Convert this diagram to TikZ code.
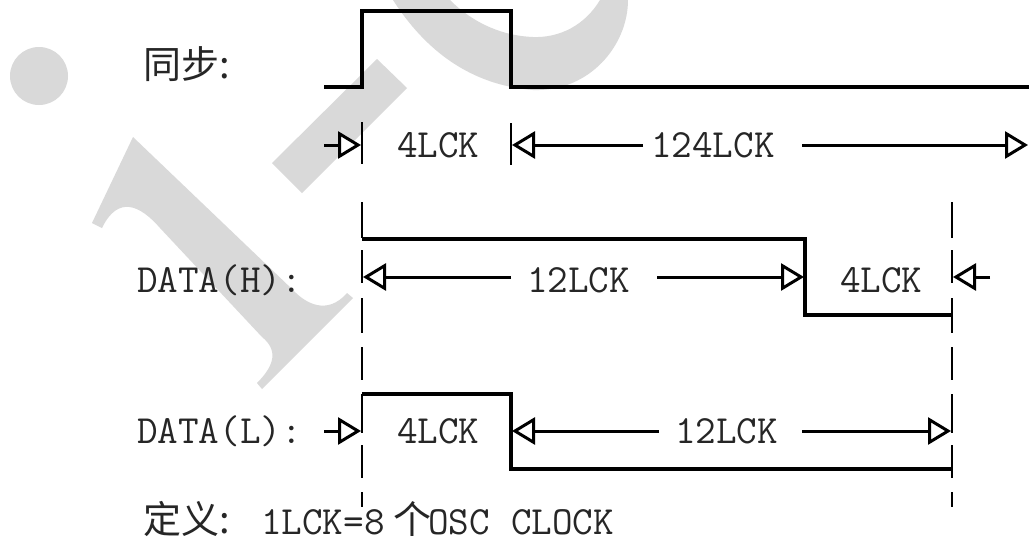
\documentclass[tikz,border=0pt]{standalone}
\usepackage{fontspec}
\newfontfamily\cjkfont{Noto Sans CJK SC}[Scale=1.0]
\usetikzlibrary{arrows.meta}
\definecolor{wm}{HTML}{D9D9D9}
\tikzset{
  mark wm/.style={fill=wm,draw=none},
  signal/.style={draw=black,line width=3.3pt,line join=miter},
  tick/.style={draw=black,line width=2.8pt},
  guide/.style={draw=black,line width=1.9pt},
  dimline/.style={draw=black,line width=3pt,-{Triangle[open,length=23pt,width=27pt,line width=3pt,fill=white]}},
  lbl/.style={anchor=base west,inner sep=0pt,outer sep=0pt,font=\fontsize{40}{40}\selectfont\ttfamily,text=black!85},
  cjk/.style={anchor=base west,inner sep=0pt,outer sep=0pt,font=\fontsize{38}{38}\selectfont\cjkfont,text=black!85}
}
\begin{document}
\begin{tikzpicture}[x=1pt,y=-1pt]
\useasboundingbox (0,0) rectangle (1029,541);
\fill[white] (0,0) rectangle (1029,541);
% watermark
\fill[mark wm] (39,76) circle (29);
\fill[mark wm] (377,59) -- (407,88) -- (302,193) -- (272,163) -- cycle;
\fill[mark wm] (133,137) -- (293,290) .. controls (305,303) and (327,316) .. (347,293)
  -- (353,298) -- (262,389) -- (257,383) .. controls (275,365) and (278,350) .. (262,337)
  -- (160,228) .. controls (140,205) and (118,195) .. (102,228) -- (92,223) -- cycle;
\fill[mark wm] (393,0) .. controls (425,50) and (470,85) .. (533,90)
  .. controls (590,92) and (628,45) .. (628,0) -- (600,0)
  .. controls (585,25) and (560,38) .. (533,37)
  .. controls (505,36) and (475,25) .. (450,0) -- cycle;
% signals
\coordinate (s0) at (324,87); \coordinate (s1) at (362,87); \coordinate (s2) at (362,11);
\coordinate (s3) at (511,11); \coordinate (s4) at (511,87); \coordinate (s5) at (1029,87);
\draw[signal] (s0) -- (s1) -- (s2) -- (s3) -- (s4) -- (s5);
\coordinate (h0) at (362,239); \coordinate (h1) at (805,239); \coordinate (h2) at (805,315); \coordinate (h3) at (952,315);
\draw[signal] (h0) -- (h1) -- (h2) -- (h3);
\coordinate (l0) at (362,394); \coordinate (l1) at (511,394); \coordinate (l2) at (511,469); \coordinate (l3) at (952,469);
\draw[signal] (l0) -- (l1) -- (l2) -- (l3);
% ticks in first dimension row
\coordinate (t1a) at (362,122); \coordinate (t1b) at (362,164);
\coordinate (t2a) at (511,123); \coordinate (t2b) at (511,165);
\draw[tick] (t1a) -- (t1b);
\draw[tick] (t2a) -- (t2b);
% dashed guides
\foreach \x in {362,952}{
  \foreach \a/\b in {202/238,250/283,298/333,347/380,394/433,445/478,492/507}{
    \draw[guide] (\x,\a) -- (\x,\b);
  }
}
% dimension row 1
\coordinate (a1) at (324,145); \coordinate (a2) at (361,145);
\coordinate (a3) at (643,145); \coordinate (a4) at (512,145);
\coordinate (a5) at (802,145); \coordinate (a6) at (1028,145);
\draw[dimline] (a1) -- (a2);
\draw[dimline] (a3) -- (a4);
\draw[dimline] (a5) -- (a6);
% dimension row 2
\coordinate (b1) at (511,277); \coordinate (b2) at (363,277);
\coordinate (b3) at (657,277); \coordinate (b4) at (804,277);
\coordinate (b5) at (990,277); \coordinate (b6) at (953,277);
\draw[dimline] (b1) -- (b2);
\draw[dimline] (b3) -- (b4);
\draw[dimline] (b5) -- (b6);
% dimension row 3
\coordinate (c1) at (324,431); \coordinate (c2) at (361,431);
\coordinate (c3) at (659,431); \coordinate (c4) at (512,431);
\coordinate (c5) at (802,431); \coordinate (c6) at (951,431);
\draw[dimline] (c1) -- (c2);
\draw[dimline] (c3) -- (c4);
\draw[dimline] (c5) -- (c6);
% labels
\node[cjk] (sync) at (143,78) {同步:};
\node[lbl] (dh) at (137,292) {DATA(H):};
\node[lbl] (dl) at (137,443) {DATA(L):};
\node[lbl] (w1) at (397,157) {4LCK};
\node[lbl] (w2) at (651,157) {124LCK};
\node[lbl] (w3) at (527,292) {12LCK};
\node[lbl] (w4) at (840,292) {4LCK};
\node[lbl] (w5) at (397,443) {4LCK};
\node[lbl] (w6) at (675,443) {12LCK};
\node[cjk] (d1) at (143,533) {定义:};
\node[lbl] (d2) at (261,534) {1LCK=8};
\node[cjk] (d3) at (393,533) {个};
\node[lbl] (d4) at (428,534) {OSC};
\node[lbl] (d5) at (511,534) {CLOCK};
\end{tikzpicture}
\end{document}
